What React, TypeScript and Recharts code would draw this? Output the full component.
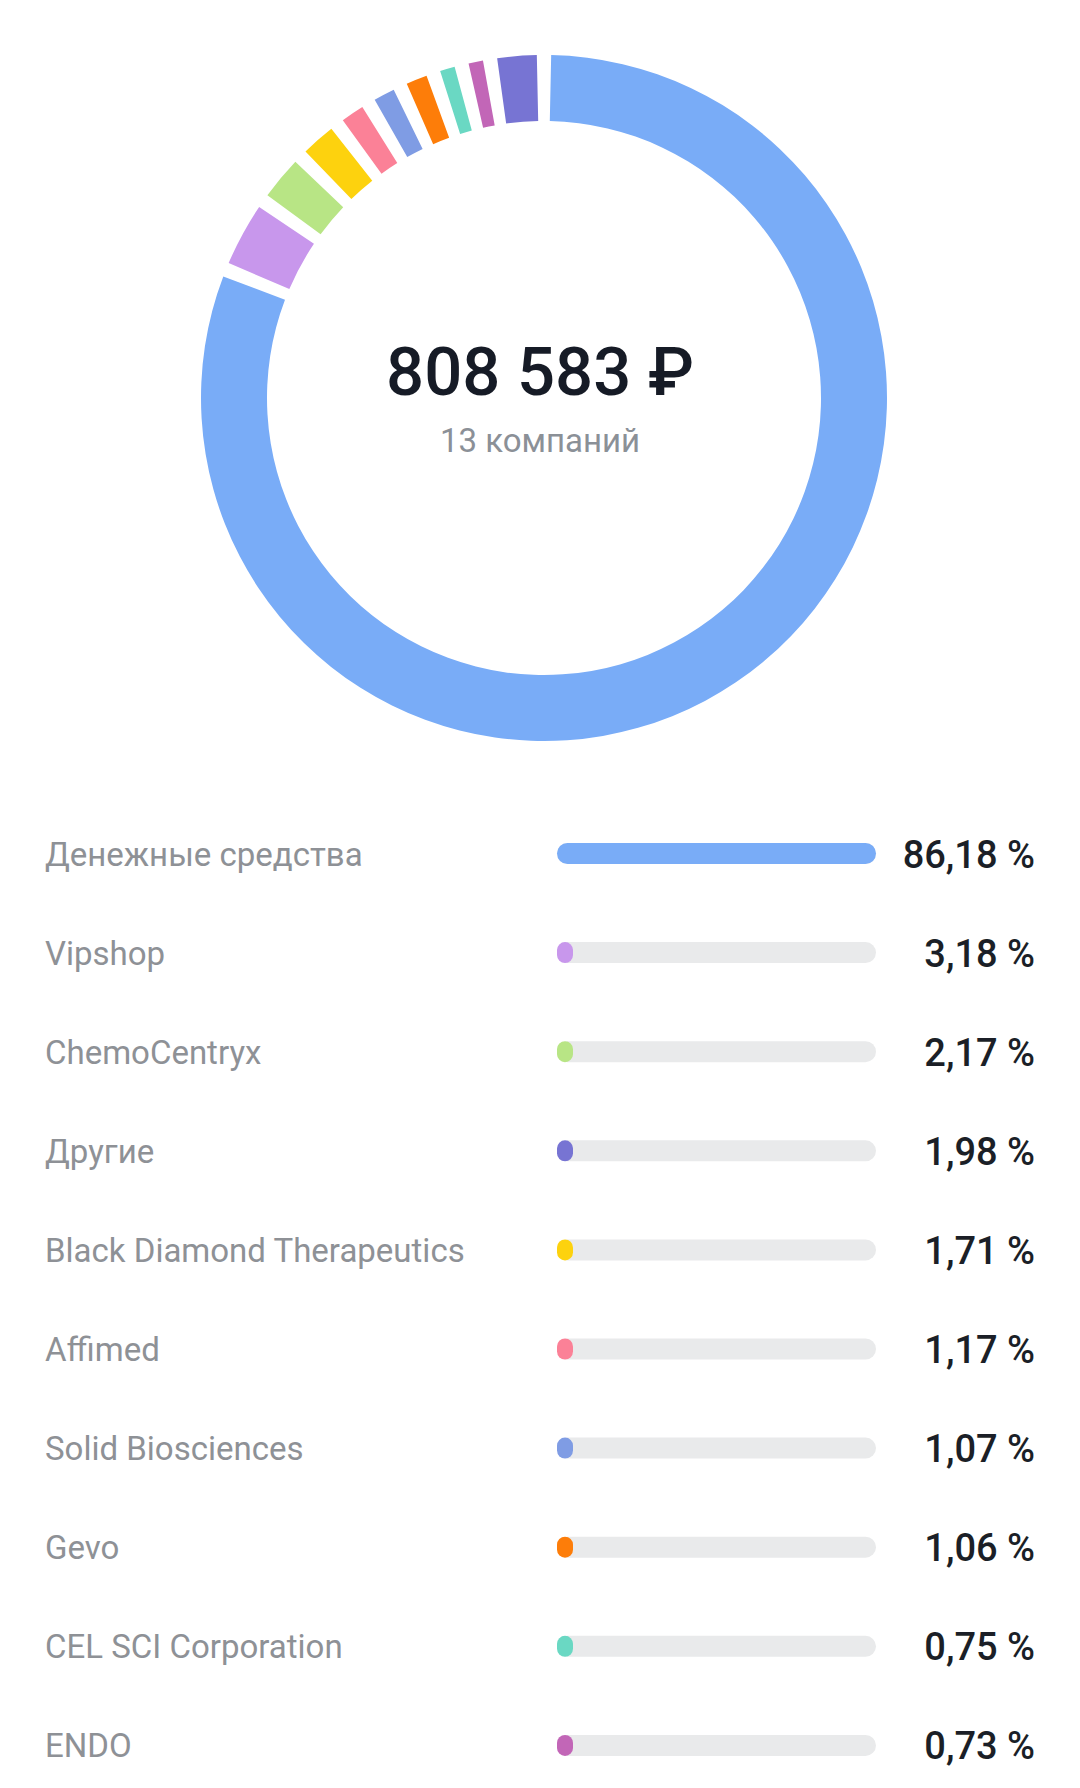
import { PieChart, Pie, Cell, BarChart, Bar, XAxis, YAxis, LabelList } from 'recharts';

const names = [
  'Денежные средства',
  'Vipshop',
  'ChemoCentryx',
  'Другие',
  'Black Diamond Therapeutics',
  'Affimed',
  'Solid Biosciences',
  'Gevo',
  'CEL SCI Corporation',
  'ENDO',
];
const shares = [86.18, 3.18, 2.17, 1.98, 1.71, 1.17, 1.07, 1.06, 0.75, 0.73];
const colors = ['#79acf7', '#c897ec', '#b8e585', '#7774d3', '#fdd20e', '#fb8197', '#7f9ce4', '#fd7d09', '#6ad8c3', '#c266b7'];
const totalLabel = '808 583 ₽';
const countLabel = '13 компаний';
const OTHER = 'Другие';

const rows = names.map((name, i) => ({ name, value: shares[i], color: colors[i] }));
// the donut keeps "Другие" as the last slice
const pieData = [...rows.filter((r) => r.name !== OTHER), ...rows.filter((r) => r.name === OTHER)];

const FONT = 'Roboto, "Noto Sans", sans-serif';

const fmt = (v: number) => v.toFixed(2).replace('.', ',') + ' %';

const NameLabel = (props: any) => {
  const cy = Number(props.y) + Number(props.height) / 2;
  return (
    <text x={45} y={cy + 12} fill="#8e9196" fontSize={33} fontFamily={FONT}>
      {props.value}
    </text>
  );
};

const ValueLabel = (props: any) => {
  const cy = Number(props.y) + Number(props.height) / 2;
  return (
    <text x={1035} y={cy + 14} fill="#1b1f27" fontSize={38} fontWeight={500} fontFamily={FONT} textAnchor="end">
      {fmt(Number(props.value))}
    </text>
  );
};

export default function App() {
  return (
    <div style={{ position: 'relative', width: 1080, height: 1788, background: '#fff', overflow: 'hidden', fontFamily: FONT }}>
      <style>{`body{margin:0}`}</style>

      {/* Donut */}
      <div style={{ position: 'absolute', left: 0, top: 0 }}>
        <PieChart width={1080} height={790}>
          <Pie
            data={pieData}
            dataKey="value"
            nameKey="name"
            cx={539}
            cy={393}
            innerRadius={277}
            outerRadius={343}
            startAngle={88.8}
            endAngle={-271.2}
            paddingAngle={2.4}
            stroke="none"
            isAnimationActive={false}
          >
            {pieData.map((r) => (
              <Cell key={r.name} fill={r.color} />
            ))}
          </Pie>
        </PieChart>
      </div>

      <svg width={1080} height={790} style={{ position: 'absolute', left: 0, top: 0, pointerEvents: 'none' }}>
        <text x={540} y={395} textAnchor="middle" fill="#161b26" fontSize={67} fontWeight={500} fontFamily={FONT}>
          {totalLabel}
        </text>
        <text x={540} y={452} textAnchor="middle" fill="#8b9097" fontSize={33} fontFamily={FONT}>
          {countLabel}
        </text>
      </svg>

      {/* List */}
      <div style={{ position: 'absolute', left: 0, top: 804 }}>
        <BarChart
          width={1080}
          height={991}
          data={rows}
          layout="vertical"
          margin={{ top: 0, right: 204, bottom: 0, left: 557 }}
          barSize={21}
        >
          <XAxis type="number" domain={[0, 'dataMax']} hide />
          <YAxis type="category" dataKey="name" hide />
          <Bar
            dataKey="value"
            radius={10.5}
            minPointSize={16}
            background={{ fill: '#e9eaeb', radius: 10.5 }}
            isAnimationActive={false}
          >
            {rows.map((r) => (
              <Cell key={r.name} fill={r.color} />
            ))}
            <LabelList dataKey="name" content={NameLabel} />
            <LabelList dataKey="value" content={ValueLabel} />
          </Bar>
        </BarChart>
      </div>
    </div>
  );
}
